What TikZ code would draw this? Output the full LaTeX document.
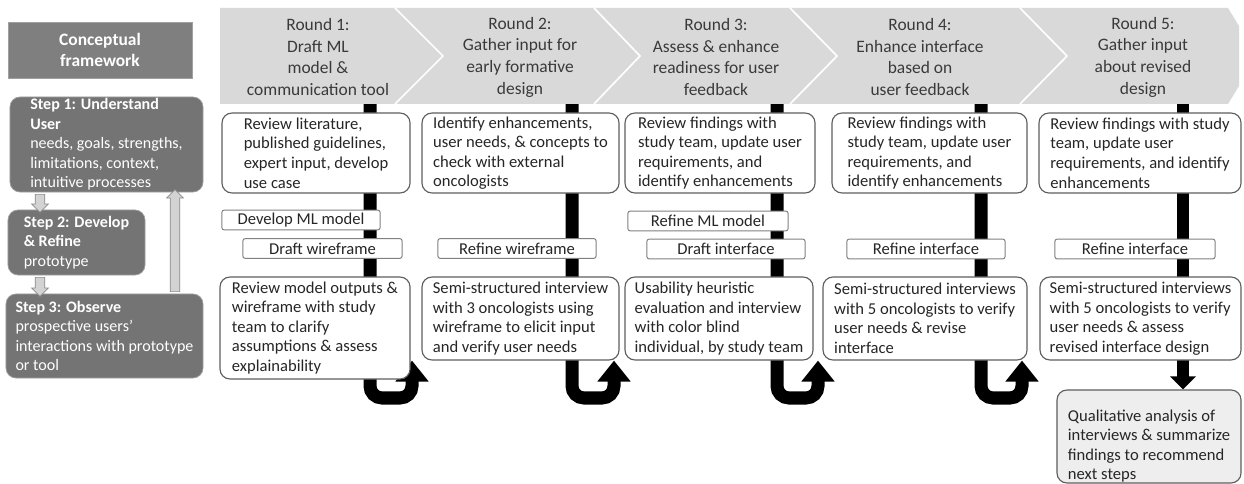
\documentclass[tikz,border=0pt]{standalone}
\usepackage{fontspec}
\setmainfont{Carlito}
\usetikzlibrary{arrows.meta, calc, positioning, shapes.arrows, backgrounds}

\definecolor{headgray}{HTML}{D9D9D9}
\definecolor{headtext}{HTML}{3A3A3A}
\definecolor{framegray}{HTML}{7F7F7F}
\definecolor{stepgray}{HTML}{747474}
\definecolor{stepline}{HTML}{A0A0A0}
\definecolor{boxline}{HTML}{5E5E5E}
\definecolor{midline}{HTML}{808080}
\definecolor{arrowfill}{HTML}{D3D3D3}
\definecolor{arrowline}{HTML}{8A8A8A}
\definecolor{endfill}{HTML}{EEEEEE}

\newcommand{\boxfont}{\fontsize{11.8}{13.9}\selectfont}
\newcommand{\stepfont}{\fontsize{11.4}{13.9}\selectfont}
\newcommand{\roundfont}{\fontsize{12.4}{15.4}\selectfont}

\begin{document}
\begin{tikzpicture}[x=0.025cm, y=-0.025cm,
  roundtext/.style={align=center, text=headtext, font=\roundfont},
  mainbox/.style={draw=boxline, fill=white, line width=0.8pt, rounded corners=0.25cm,
    align=left, inner sep=0pt, text=black!85, font=\boxfont},
  midbox/.style={draw=midline, fill=white, line width=0.7pt, rounded corners=0.05cm,
    inner sep=0pt, text=black!85, font=\boxfont, minimum height=0.49cm},
  stepbox/.style={draw=stepline, fill=stepgray, line width=0.5pt, rounded corners=0.25cm,
    align=left, inner sep=0pt, text=white, font=\stepfont},
  greyarrow/.style={single arrow, draw=arrowline, fill=arrowfill, line width=0.5pt,
    inner sep=0.11cm, single arrow head extend=0.09cm},
  bar/.style={line width=0.325cm, black},
  uturn/.style={bar, rounded corners=0.3cm, -{Triangle[width=0.8cm, length=0.525cm]}},
]
\useasboundingbox (0,0) rectangle (1244,484);

% conceptual framework
\node[draw=stepline, fill=framegray, text=white, font=\roundfont\bfseries, align=center,
  minimum width=4.6cm, minimum height=1.4cm, inner sep=0pt] (frame) at (100,50) {Conceptual\\framework};
\node[stepbox, minimum width=4.825cm, minimum height=2.375cm] (step1) at (106.5,144.5)
  {\textbf{Step 1: Understand}\\\textbf{User}\\needs, goals, strengths,\\limitations, context,\\intuitive processes};
\node[stepbox, minimum width=3.425cm, minimum height=1.625cm] (step2) at (76.5,242.5)
  {\textbf{Step 2: Develop}\\\textbf{\& Refine}\\prototype};
\node[stepbox, minimum width=4.925cm, minimum height=2.1cm] (step3) at (104.5,336)
  {\textbf{Step 3: Observe}\\prospective users’\\interactions with prototype\\or tool};

\coordinate (downx) at (40,0);
\coordinate (upx) at (175,0);
\path (step1.south -| downx) -- (step2.north -| downx)
  node[midway, greyarrow, rotate=-90, minimum height=0.45cm] (down12) {};
\path (step2.south -| downx) -- (step3.north -| downx)
  node[midway, greyarrow, rotate=-90, minimum height=0.475cm] (down23) {};
\path (step3.north -| upx) -- (step1.south -| upx)
  node[midway, greyarrow, rotate=90, minimum height=2.55cm] (up31) {};

% round headers
\fill[headgray] (220,8) -- (1228,8) -- (1239,26) -- (1239,86) -- (1228,104) -- (220,104) -- cycle;
\foreach \xt/\xp in {395/443, 594/640, 790/837, 1020/1067}
  \draw[white, line width=1.2pt] (\xt,8) -- (\xp,56) -- (\xt,104);

\node[roundtext] (round1) at (318,57) {Round 1:\\Draft ML\\model \&\\communication tool};
\node[roundtext] (round2) at (520,57) {Round 2:\\Gather input for\\early formative\\design};
\node[roundtext] (round3) at (716,57) {Round 3:\\Assess \& enhance\\readiness for user\\feedback};
\node[roundtext] (round4) at (920,57) {Round 4:\\Enhance interface\\based on\\user feedback};
\node[roundtext] (round5) at (1143,57) {Round 5:\\Gather input\\about revised\\design};

% first row
\node[mainbox, minimum width=4.7cm, minimum height=2cm] (find1) at (316,153)
  {Review literature,\\published guidelines,\\expert input, develop\\use case};
\node[mainbox, minimum width=4.925cm, minimum height=2cm] (find2) at (520.5,153)
  {Identify enhancements,\\user needs, \& concepts to\\check with external\\oncologists};
\node[mainbox, minimum width=4.75cm, minimum height=2cm] (find3) at (720,153)
  {Review findings with\\study team, update user\\requirements, and\\identify enhancements};
\node[mainbox, minimum width=4.875cm, minimum height=2cm] (find4) at (929.5,153)
  {Review findings with\\study team, update user\\requirements, and\\identify enhancements};
\node[mainbox, minimum width=5.05cm, minimum height=2cm] (find5) at (1140,153)
  {Review findings with study\\team, update user\\requirements, and identify\\enhancements};

% build steps
\node[midbox, minimum width=3.95cm] (model1) at (301,220) {Develop ML model};
\node[midbox, minimum width=3.975cm] (wire1) at (322.5,248.5) {Draft wireframe};
\node[midbox, minimum width=3.95cm] (wire2) at (517,248.5) {Refine wireframe};
\node[midbox, minimum width=4cm] (model3) at (708,221) {Refine ML model};
\node[midbox, minimum width=3.95cm] (face3) at (726,249) {Draft interface};
\node[midbox, minimum width=3.95cm] (face4) at (926,249) {Refine interface};
\node[midbox, minimum width=4cm] (face5) at (1135,249) {Refine interface};

% testing row
\node[mainbox, minimum width=4.75cm, minimum height=2.55cm] (test1) at (315,328)
  {Review model outputs \&\\wireframe with study\\team to clarify\\assumptions \& assess\\explainability};
\node[mainbox, minimum width=4.925cm, minimum height=2.075cm] (test2) at (520.5,318.5)
  {Semi-structured interview\\with 3 oncologists using\\wireframe to elicit input\\and verify user needs};
\node[mainbox, minimum width=4.7cm, minimum height=2.075cm] (test3) at (719,318.5)
  {Usability heuristic\\evaluation and interview\\with color blind\\individual, by study team};
\node[mainbox, minimum width=5.1cm, minimum height=2.075cm] (test4) at (925,318.5)
  {Semi-structured interviews\\with 5 oncologists to verify\\user needs \& revise\\interface};
\node[mainbox, minimum width=5.025cm, minimum height=2.075cm] (test5) at (1140.5,318.5)
  {Semi-structured interviews\\with 5 oncologists to verify\\user needs \& assess\\revised interface design};
\node[mainbox, fill=endfill, minimum width=4.6cm, minimum height=2.325cm] (final) at (1149,436.5)
  {\rule{0pt}{22pt}Qualitative analysis of\\interviews \& summarize\\findings to recommend\\next steps};

% black flow bars
\begin{scope}[on background layer]
\foreach \i/\xa/\xb in {1/370/412, 2/572/614, 3/777/818, 4/981/1022} {
  \pgfmathtruncatemacro{\j}{\i+1}
  \coordinate (top\i) at (\xa,104);
  \coordinate (bend\i) at (\xb,398);
  \draw[uturn] (top\i) |- (bend\i) -- (bend\i |- test\j.south);
}
\coordinate (top5) at (1183,104);
\draw[bar, line width=0.3cm, -{Triangle[width=0.625cm, length=0.325cm]}] (top5) -- (top5 |- final.north);
\end{scope}

\end{tikzpicture}
\end{document}
